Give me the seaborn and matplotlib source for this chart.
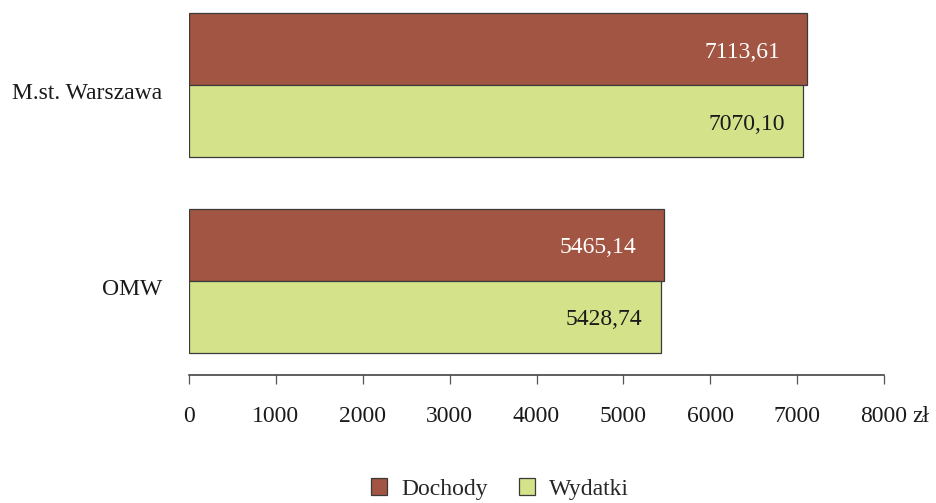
import matplotlib
matplotlib.use("Agg")
import matplotlib.pyplot as plt
import matplotlib.transforms as mtransforms
from matplotlib.patches import Patch
import seaborn as sns
import pandas as pd

# Dane: dochody i wydatki na mieszkańca (zł)
categories = ["M.st. Warszawa", "OMW"]
series_names = ["Dochody", "Wydatki"]
dochody = [7113.61, 5465.14]
wydatki = [7070.10, 5428.74]
x_ticks = [0, 1000, 2000, 3000, 4000, 5000, 6000, 7000, 8000]
unit = "zł"

colors = {"Dochody": "#A15542", "Wydatki": "#D4E28A"}
text_colors = {"Dochody": "white", "Wydatki": "#1a1a1a"}
FS = 17

df = pd.DataFrame({
    "obszar": categories * 2,
    "seria": [series_names[0]] * len(categories) + [series_names[1]] * len(categories),
    "wartosc": dochody + wydatki,
})

sns.set_theme(style="white")
plt.rcParams["font.family"] = ["Liberation Serif", "DejaVu Serif"]

fig = plt.figure(figsize=(9.36, 5.03), dpi=100)
ax = fig.add_axes([189 / 936, 1 - 375 / 503, (884 - 189) / 936, 375 / 503])

sns.barplot(
    data=df, y="obszar", x="wartosc", hue="seria", orient="h",
    order=categories, hue_order=series_names, palette=colors, saturation=1,
    width=0.735, edgecolor="#3a3a3a", linewidth=0.9, legend=False, ax=ax,
)

ax.set_xlim(0, 8000)
ax.set_ylim(1.48, -0.434)
ax.set_xticks(x_ticks)
ax.set_xticklabels([str(t) for t in x_ticks])
ax.set_xlabel("")
ax.set_ylabel("")

for side in ["top", "right", "left"]:
    ax.spines[side].set_visible(False)
ax.spines["bottom"].set_color("#333333")
ax.spines["bottom"].set_linewidth(1.1)

ax.tick_params(axis="x", which="both", bottom=True, direction="out", length=6.5,
               width=0.9, color="#555555", pad=16, labelsize=FS, labelcolor="#1a1a1a")
ax.tick_params(axis="y", left=False, length=0, pad=19, labelsize=FS, labelcolor="#1a1a1a")

# lekkie obniżenie etykiet kategorii
offset = mtransforms.ScaledTranslation(0, -6 / 100, fig.dpi_scale_trans)
for lbl in ax.get_yticklabels():
    lbl.set_transform(lbl.get_transform() + offset)

# jednostka przy ostatniej wartości osi
ax.annotate(unit, xy=(8000, 0), xycoords=("data", "axes fraction"),
            xytext=(20.5, -22.2), textcoords="offset points",
            ha="left", va="top", fontsize=FS, color="#1a1a1a",
            annotation_clip=False)

# etykiety wartości wewnątrz słupków
pads = {"Dochody": 27, "Wydatki": 18}
for name, container in zip(series_names, ax.containers):
    for bar in container:
        v = bar.get_width()
        ax.annotate(f"{v:.2f}".replace(".", ","),
                    xy=(bar.get_x() + v, bar.get_y() + bar.get_height() / 2),
                    xytext=(-pads[name], -3), textcoords="offset pixels",
                    ha="right", va="center", fontsize=FS,
                    color=text_colors[name])

handles = [Patch(facecolor=colors[n], edgecolor="#3a3a3a", linewidth=0.9, label=n)
           for n in series_names]
fig.legend(handles=handles, loc="center", bbox_to_anchor=(500 / 936, 1 - 489 / 503),
           ncol=2, frameon=False, fontsize=FS, handlelength=0.7, handleheight=0.7,
           handletextpad=0.6, columnspacing=1.3)

fig.savefig("out.png", dpi=100)
